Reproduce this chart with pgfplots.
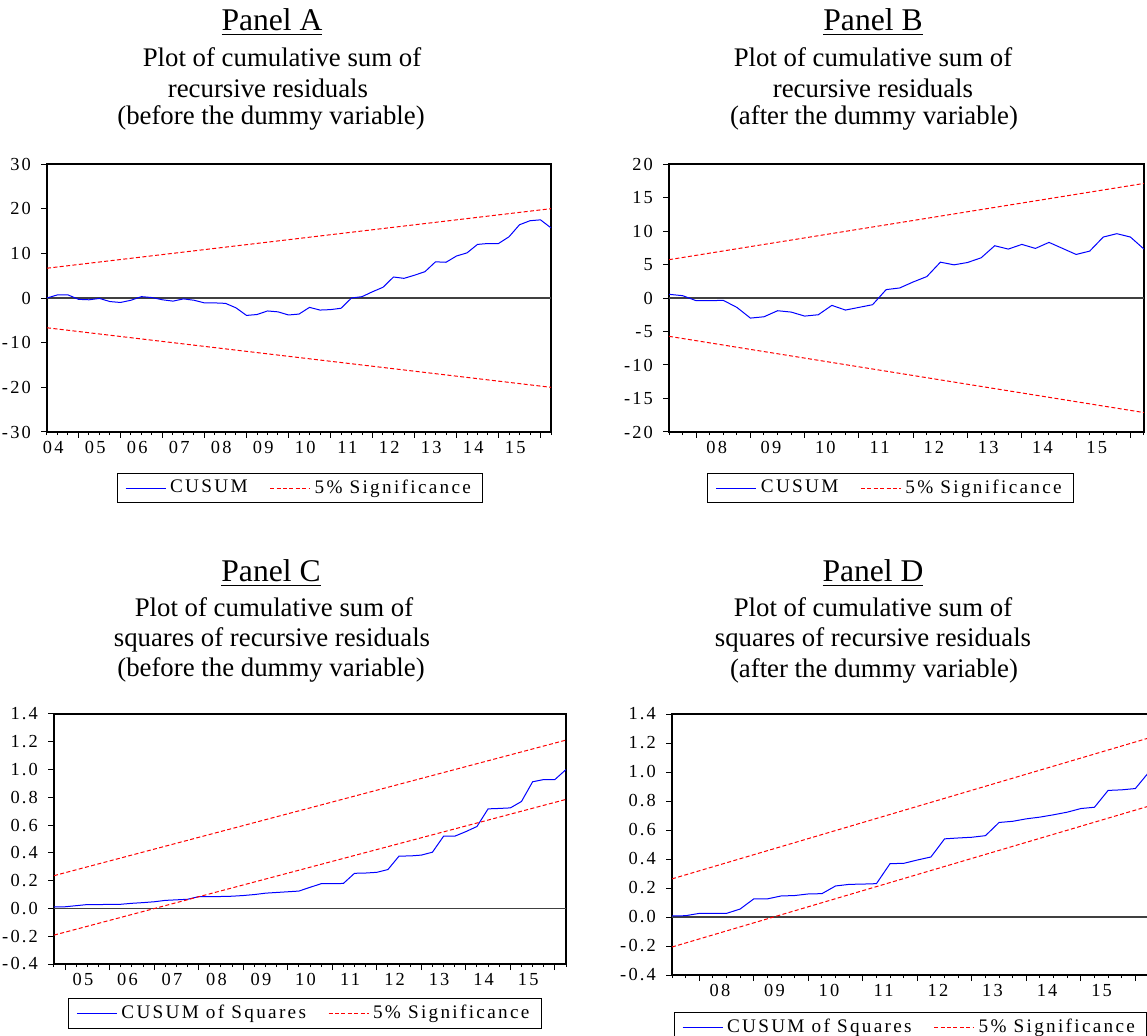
\documentclass[border=0pt]{standalone}
\usepackage{fontspec}
\setmainfont{Liberation Serif}
\newfontfamily\evfont[LetterSpace=12]{Liberation Serif}
\usepackage{pgfplots}
\pgfplotsset{compat=1.18}
\definecolor{evblue}{RGB}{0,0,255}
\definecolor{evred}{RGB}{255,0,0}
\pgfplotsset{
 ev/.style={
  scale only axis,
  axis line style={black, line width=0.6pt},
  tick align=outside,
  tick pos=left,
  major tick length=3pt,
  minor tick length=1.6pt,
  tick style={black, line width=0.5pt},
  ticklabel style={font=\evfont\fontsize{9.2}{10}\selectfont},
  x tick label style={yshift=-1.3pt},
  y tick label style={xshift=-1.5pt},
  /pgf/number format/assume math mode=true,
  legend columns=2,
  legend cell align=left,
  legend style={draw=black, line width=0.5pt, font=\evfont\fontsize{9.6}{10.5}\selectfont,
    inner xsep=4pt, inner ysep=1.2pt,
    /tikz/every even column/.append style={column sep=9pt}},
  legend image code/.code={\draw[#1] (0pt,0pt) -- (20pt,0pt);},
  xticklabels={},
  extra x tick style={major tick length=0pt},
 },
 cus/.style={evblue, line width=0.5pt},
 sig/.style={evred, line width=0.5pt, dash pattern=on 2pt off 1.2pt},
 zero/.style={black!75, line width=0.6pt, forget plot},
}
\newcommand{\ttl}[1]{\fontsize{15.8}{18}\selectfont\underline{#1}}
\newcommand{\sub}{\fontsize{13.4}{15}\selectfont}
\begin{document}
\begin{tikzpicture}
\useasboundingbox (0pt,0pt) rectangle (573.5pt,517.5pt);
% ---------- titles ----------
\node at (136pt,506.5pt) {\ttl{Panel A}};
\node at (141pt,489pt) {\sub Plot of cumulative sum of};
\node at (134pt,473.5pt) {\sub recursive residuals};
\node at (135.5pt,458.5pt) {\sub (before the dummy variable)};
\node at (436.5pt,506.5pt) {\ttl{Panel B}};
\node at (436.5pt,489pt) {\sub Plot of cumulative sum of};
\node at (436.5pt,473.5pt) {\sub recursive residuals};
\node at (437pt,458.5pt) {\sub (after the dummy variable)};
\node at (135.5pt,231pt) {\ttl{Panel C}};
\node at (137pt,214pt) {\sub Plot of cumulative sum of};
\node at (136pt,197.5pt) {\sub squares of recursive residuals};
\node at (135.5pt,182.5pt) {\sub (before the dummy variable)};
\node at (436.5pt,231pt) {\ttl{Panel D}};
\node at (436.5pt,214pt) {\sub Plot of cumulative sum of};
\node at (436.5pt,197.5pt) {\sub squares of recursive residuals};
\node at (437pt,182pt) {\sub (after the dummy variable)};
% ---------- Panel A ----------
\begin{axis}[ev, at={(23.5pt,301.5pt)}, anchor=south west, width=252pt, height=134pt,
 xmin=2004.25, xmax=2016.25, ymin=-30, ymax=30,
 xtick={2005,...,2016}, minor xtick={2004.25,2004.5,...,2016.25},
 extra x ticks={2004.4,2005.4,...,2015.4},
 extra x tick labels={04,05,06,07,08,09,10,11,12,13,14,15},
 ytick={-30,-20,...,30}, yticklabels={-30,-20,-10,0,10,20,30},
 legend style={at={(0.502,-0.209)}, anchor=center}]
\addplot[zero] coordinates {(2004.25,0) (2016.25,0)};
\addplot[cus] coordinates {
(2004.25,0) (2004.5,0.7) (2004.75,0.7) (2005,-0.3) (2005.25,-0.4) (2005.5,-0.1)
(2005.75,-0.8) (2006,-1.0) (2006.25,-0.5) (2006.5,0.3) (2006.75,0.1) (2007,-0.4)
(2007.25,-0.7) (2007.5,-0.2) (2007.75,-0.5) (2008,-1.1) (2008.25,-1.1) (2008.5,-1.2)
(2008.75,-2.2) (2009,-3.9) (2009.25,-3.7) (2009.5,-2.9) (2009.75,-3.1) (2010,-3.8)
(2010.25,-3.6) (2010.5,-2.1) (2010.75,-2.7) (2011,-2.6) (2011.25,-2.3) (2011.5,0.0)
(2011.75,0.3) (2012,1.4) (2012.25,2.4) (2012.5,4.7) (2012.75,4.4) (2013,5.1)
(2013.25,5.9) (2013.5,8.1) (2013.75,8.0) (2014,9.4) (2014.25,10.1) (2014.5,12.0)
(2014.75,12.2) (2015,12.2) (2015.25,13.7) (2015.5,16.4) (2015.75,17.3) (2016,17.5)
(2016.25,15.7)};
\addlegendentry{CUSUM}
\addplot[sig] coordinates {(2004.25,6.67) (2016.25,20.0)};
\addlegendentry{5\% Significance}
\addplot[sig, forget plot] coordinates {(2004.25,-6.67) (2016.25,-20.0)};
\end{axis}
% ---------- Panel B ----------
\begin{axis}[ev, at={(334.5pt,301.5pt)}, anchor=south west, width=237.5pt, height=134pt,
 xmin=2007.5, xmax=2016.25, ymin=-20, ymax=20,
 xtick={2008,...,2016}, minor xtick={2007.5,2007.75,...,2016.25},
 extra x ticks={2008.38,2009.38,...,2015.38},
 extra x tick labels={08,09,10,11,12,13,14,15},
 ytick={-20,-15,...,20}, yticklabels={-20,-15,-10,-5,0,5,10,15,20},
 legend style={at={(0.467,-0.209)}, anchor=center}]
\addplot[zero] coordinates {(2007.5,0) (2016.25,0)};
\addplot[cus] coordinates {
(2007.5,0.55) (2007.75,0.35) (2008,-0.4) (2008.25,-0.4) (2008.5,-0.35) (2008.75,-1.4)
(2009,-3.0) (2009.25,-2.8) (2009.5,-1.9) (2009.75,-2.1) (2010,-2.7) (2010.25,-2.5)
(2010.5,-1.1) (2010.75,-1.8) (2011,-1.4) (2011.25,-1.0) (2011.5,1.25) (2011.75,1.5)
(2012,2.4) (2012.25,3.2) (2012.5,5.35) (2012.75,4.95) (2013,5.3) (2013.25,6.0)
(2013.5,7.8) (2013.75,7.3) (2014,8.0) (2014.25,7.4) (2014.5,8.3) (2014.75,7.4)
(2015,6.5) (2015.25,7.0) (2015.5,9.1) (2015.75,9.6) (2016,9.1) (2016.25,7.3)};
\addlegendentry{CUSUM}
\addplot[sig] coordinates {(2007.5,5.72) (2016.25,17.1)};
\addlegendentry{5\% Significance}
\addplot[sig, forget plot] coordinates {(2007.5,-5.72) (2016.25,-17.1)};
\end{axis}
% ---------- Panel C ----------
\begin{axis}[ev, at={(27pt,35.5pt)}, anchor=south west, width=256pt, height=125pt,
 xmin=2004.75, xmax=2016.25, ymin=-0.4, ymax=1.4,
 xtick={2005,...,2016}, minor xtick={2004.75,2005,...,2016.25},
 extra x ticks={2005.4,2006.4,...,2015.4},
 extra x tick labels={05,06,07,08,09,10,11,12,13,14,15},
 ytick={-0.4,-0.2,...,1.41}, yticklabels={-0.4,-0.2,0.0,0.2,0.4,0.6,0.8,1.0,1.2,1.4},
 legend style={at={(0.49,-0.198)}, anchor=center}]
\addplot[zero] coordinates {(2004.75,0) (2016.25,0)};
\addplot[cus] coordinates {
(2004.75,0.012) (2005,0.012) (2005.25,0.02) (2005.5,0.028) (2005.75,0.028) (2006,0.029)
(2006.25,0.03) (2006.5,0.037) (2006.75,0.042) (2007,0.048) (2007.25,0.058) (2007.5,0.062)
(2007.75,0.066) (2008,0.085) (2008.25,0.086) (2008.5,0.086) (2008.75,0.088) (2009,0.093)
(2009.25,0.1) (2009.5,0.11) (2009.75,0.115) (2010,0.12) (2010.25,0.125) (2010.5,0.152)
(2010.75,0.178) (2011,0.178) (2011.25,0.18) (2011.5,0.253) (2011.75,0.255) (2012,0.26)
(2012.25,0.28) (2012.5,0.377) (2012.75,0.378) (2013,0.384) (2013.25,0.405) (2013.5,0.52)
(2013.75,0.52) (2014,0.553) (2014.25,0.59) (2014.5,0.717) (2014.75,0.72) (2015,0.724)
(2015.25,0.77) (2015.5,0.912) (2015.75,0.928) (2016,0.928) (2016.25,1.0)};
\addlegendentry{CUSUM of Squares}
\addplot[sig] coordinates {(2004.75,0.236) (2016.25,1.212)};
\addlegendentry{5\% Significance}
\addplot[sig, forget plot] coordinates {(2004.75,-0.192) (2016.25,0.785)};
\end{axis}
% ---------- Panel D ----------
\begin{axis}[ev, at={(336pt,30pt)}, anchor=south west, width=238.5pt, height=130.5pt,
 xmin=2007.5, xmax=2016.25, ymin=-0.4, ymax=1.4,
 xtick={2008,...,2016}, minor xtick={2007.5,2007.75,...,2016.25},
 extra x ticks={2008.38,2009.38,...,2015.38},
 extra x tick labels={08,09,10,11,12,13,14,15},
 ytick={-0.4,-0.2,...,1.41}, yticklabels={-0.4,-0.2,0.0,0.2,0.4,0.6,0.8,1.0,1.2,1.4},
 legend style={at={(0.5,-0.2)}, anchor=center}]
\addplot[zero] coordinates {(2007.5,0) (2016.25,0)};
\addplot[cus] coordinates {
(2007.5,0.007) (2007.75,0.009) (2008,0.025) (2008.25,0.025) (2008.5,0.025) (2008.75,0.055)
(2009,0.125) (2009.25,0.125) (2009.5,0.145) (2009.75,0.148) (2010,0.159) (2010.25,0.161)
(2010.5,0.214) (2010.75,0.225) (2011,0.227) (2011.25,0.23) (2011.5,0.368) (2011.75,0.37)
(2012,0.393) (2012.25,0.414) (2012.5,0.539) (2012.75,0.545) (2013,0.55) (2013.25,0.561)
(2013.5,0.652) (2013.75,0.66) (2014,0.677) (2014.25,0.689) (2014.5,0.705) (2014.75,0.723)
(2015,0.748) (2015.25,0.757) (2015.5,0.873) (2015.75,0.877) (2016,0.886) (2016.25,1.0)};
\addlegendentry{CUSUM of Squares}
\addplot[sig] coordinates {(2007.5,0.263) (2016.25,1.235)};
\addlegendentry{5\% Significance}
\addplot[sig, forget plot] coordinates {(2007.5,-0.207) (2016.25,0.765)};
\end{axis}
\end{tikzpicture}
\end{document}
